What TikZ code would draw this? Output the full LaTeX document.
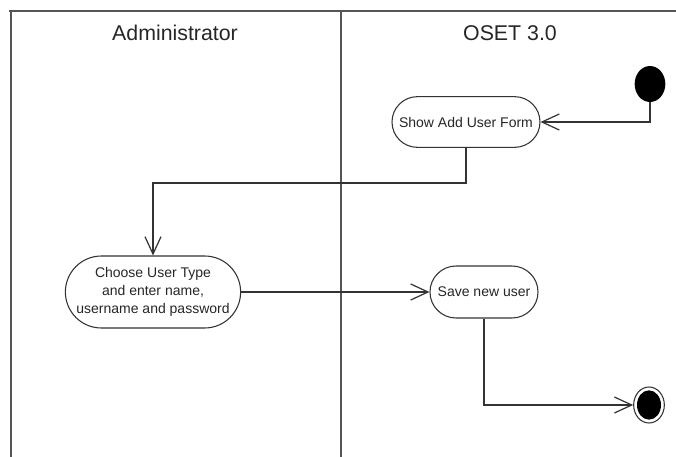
\documentclass[tikz,border=0pt]{standalone}
\usepackage{fontspec}
\setmainfont{Liberation Sans}
\usepackage{tikz}
\usetikzlibrary{%
    shapes.misc,
    shapes.geometric,
    arrows.meta,
    positioning
}
\definecolor{laneLine}{HTML}{555555}
\definecolor{actLine}{HTML}{333333}

\begin{document}
\begin{tikzpicture}[x=0.75pt, y=-0.75pt,
                lane/.style={draw=laneLine, line width=1.4pt},
                header/.style={font=\fontsize{16}{19}\selectfont, text=black!85},
                action/.style={rounded rectangle, draw=actLine, line width=0.8pt, fill=white, align=center, inner sep=1pt, font=\fontsize{10.5}{13.5}\selectfont, text=black!85},
                initial/.style={ellipse, fill=black, minimum width=23pt, minimum height=27pt, inner sep=0pt},
                finalring/.style={ellipse, draw=actLine, line width=0.8pt, fill=white, minimum width=23pt, minimum height=27pt, inner sep=0pt},
                finaldot/.style={ellipse, fill=black, minimum width=18pt, minimum height=22pt, inner sep=0pt},
                flow/.style={draw=actLine, line width=0.9pt, -{Straight Barb[length=13pt, width=12pt, line width=0.9pt]}}
            ]
            \useasboundingbox (0,0) rectangle (676,457);

            % swimlanes
            \draw[lane] (676,11) -- (9,11);
            \draw[lane] (11,11) -- (11,457);
            \draw[lane] (341,11) -- (341,457);
            \node (admin) at (175,33) [header] {Administrator};
            \node (oset) at (510,33) [header] {OSET 3.0};

            % states and actions
            \node (start) at (650,84) [initial] {};
            \node (show) at (466,122) [action, minimum width=113pt, minimum height=38pt] {Show Add User Form};
            \node (choose) at (153,292) [action, minimum width=130pt, minimum height=54pt] {Choose User Type\\ and enter name,\\ username and password};
            \node (save) at (484,292) [action, minimum width=83pt, minimum height=39pt] {Save new user};
            \node (final) at (649,405) [finalring] {};
            \node (finalDot) at (final) [finaldot] {};
            \coordinate (turn) at (153,183);

            % flows
            \draw[flow] (start.south) |- (show.east);
            \draw[flow] (show.south) |- (turn) -- (choose.north);
            \draw[flow] (choose.east) -- (save.west);
            \draw[flow] (save.south) |- (final.west);
        \end{tikzpicture}
\end{document}
